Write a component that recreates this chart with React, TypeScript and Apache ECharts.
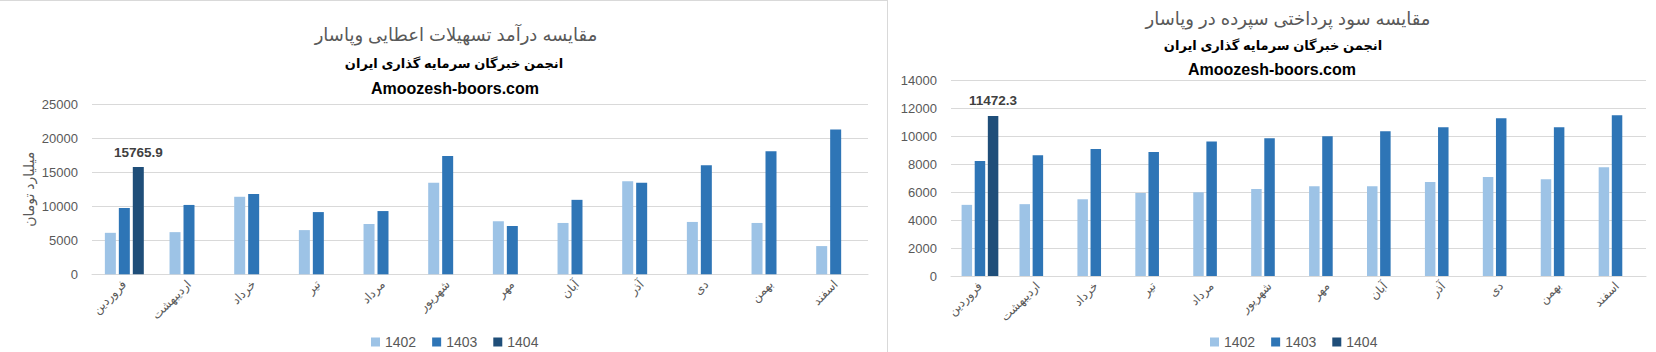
import React, { useEffect, useRef } from "react";
import * as echarts from "echarts";

const months = ["فروردین", "اردیبهشت", "خرداد", "تیر", "مرداد", "شهریور", "مهر", "آبان", "آذر", "دی", "بهمن", "اسفند"];
const seriesNames = ["1402", "1403", "1404"];

const loan1402 = [6100, 6200, 11400, 6500, 7400, 13450, 7800, 7550, 13700, 7700, 7550, 4150];
const loan1403 = [9750, 10200, 11800, 9150, 9300, 17400, 7100, 10950, 13450, 16050, 18100, 21300];
const loan1404 = [15765.9, null, null, null, null, null, null, null, null, null, null, null];

const dep1402 = [5100, 5150, 5500, 5950, 6000, 6230, 6440, 6440, 6730, 7090, 6940, 7800];
const dep1403 = [8250, 8650, 9100, 8880, 9650, 9880, 10020, 10380, 10660, 11300, 10660, 11520];
const dep1404 = [11472.3, null, null, null, null, null, null, null, null, null, null, null];

const leftTitle = "مقایسه درآمد تسهیلات اعطایی وپاسار";
const rightTitle = "مقایسه سود پرداختی سپرده در وپاسار";
const subTitle = "انجمن خبرگان سرمایه گذاری ایران";
const siteTitle = "Amoozesh-boors.com";
const leftAxisName = "میلیارد تومان";

const colors = ["#9DC3E6", "#2E75B6", "#1F4E79"];
const FONT = "Liberation Sans, DejaVu Sans, sans-serif";
const GRAY = "#595959";
const GRID = "#D9D9D9";

export default function App() {
  const ref = useRef<HTMLDivElement>(null);
  useEffect(() => {
    document.body.style.margin = "0";
    const chart = echarts.init(ref.current!, null, { renderer: "svg" });

    const xAxisBase = (gridIndex: number) => ({
      type: "category",
      gridIndex,
      data: months,
      axisTick: { show: false },
      axisLine: { lineStyle: { color: GRID } },
      axisLabel: { rotate: 45, color: GRAY, fontSize: 12, fontFamily: FONT, interval: 0, margin: 8 },
    });
    const yAxisBase = (gridIndex: number, max: number, interval: number) => ({
      type: "value",
      gridIndex,
      min: 0,
      max,
      interval,
      axisLine: { show: false },
      axisTick: { show: false },
      splitLine: { lineStyle: { color: GRID } },
      axisLabel: { color: GRAY, fontSize: 13, fontFamily: FONT, margin: 14, formatter: (v: number) => String(v) },
    });

    const mkSeries = (data: (number | null)[], idx: number, axisIdx: number, bw: number, gap: string) => ({
      type: "bar",
      name: seriesNames[idx],
      xAxisIndex: axisIdx,
      yAxisIndex: axisIdx,
      data,
      barWidth: bw,
      barGap: gap,
      itemStyle: { color: colors[idx] },
      label:
        idx === 2
          ? {
              show: true,
              position: "top",
              distance: 8,
              fontWeight: "bold",
              fontSize: 13.5,
              color: "#404040",
              fontFamily: FONT,
              formatter: (p: any) => (p.value == null ? "" : String(p.value)),
            }
          : { show: false },
    });

    const titleText = (x: number, y: number, text: string, size: number, bold: boolean, color: string) => ({
      type: "text",
      x,
      y,
      style: {
        text,
        fontSize: size,
        fontWeight: bold ? "bold" : "normal",
        fontFamily: FONT,
        fill: color,
        textAlign: "center",
        textVerticalAlign: "middle",
      },
    });

    const legendBase = (left: number) => ({
      left,
      top: 330,
      icon: "rect",
      itemWidth: 9,
      itemHeight: 9,
      itemGap: 16,
      textStyle: { color: GRAY, fontSize: 14, fontFamily: FONT },
      data: seriesNames,
    });

    chart.setOption({
      animation: false,
      grid: [
        { left: 92, top: 104.3, width: 776, height: 170, containLabel: false },
        { left: 951, top: 80.7, width: 695, height: 195.3, containLabel: false },
      ],
      xAxis: [xAxisBase(0), xAxisBase(1)],
      yAxis: [
        {
          ...yAxisBase(0, 25000, 5000),
          name: leftAxisName,
          nameLocation: "middle",
          nameGap: 56,
          nameTextStyle: { color: GRAY, fontSize: 14, fontFamily: FONT },
        },
        yAxisBase(1, 14000, 2000),
      ],
      legend: [legendBase(366), legendBase(1205)],
      series: [
        mkSeries(loan1402, 0, 0, 11, "27%"),
        mkSeries(loan1403, 1, 0, 11, "27%"),
        mkSeries(loan1404, 2, 0, 11, "27%"),
        mkSeries(dep1402, 0, 1, 10.5, "25%"),
        mkSeries(dep1403, 1, 1, 10.5, "25%"),
        mkSeries(dep1404, 2, 1, 10.5, "25%"),
      ],
      graphic: [
        { type: "line", shape: { x1: 0, y1: 0.5, x2: 887.5, y2: 0.5 }, style: { stroke: GRID, lineWidth: 1 } },
        { type: "line", shape: { x1: 887.5, y1: 0, x2: 887.5, y2: 352 }, style: { stroke: GRID, lineWidth: 1 } },
        titleText(456, 35, leftTitle, 18, false, GRAY),
        titleText(454, 63, subTitle, 13, true, "#000000"),
        titleText(455, 88, siteTitle, 16, true, "#000000"),
        titleText(1288, 19, rightTitle, 18, false, GRAY),
        titleText(1273, 45, subTitle, 13, true, "#000000"),
        titleText(1272, 69, siteTitle, 16, true, "#000000"),
      ],
    });
    return () => chart.dispose();
  }, []);
  return <div ref={ref} style={{ width: 1656, height: 352 }} />;
}
